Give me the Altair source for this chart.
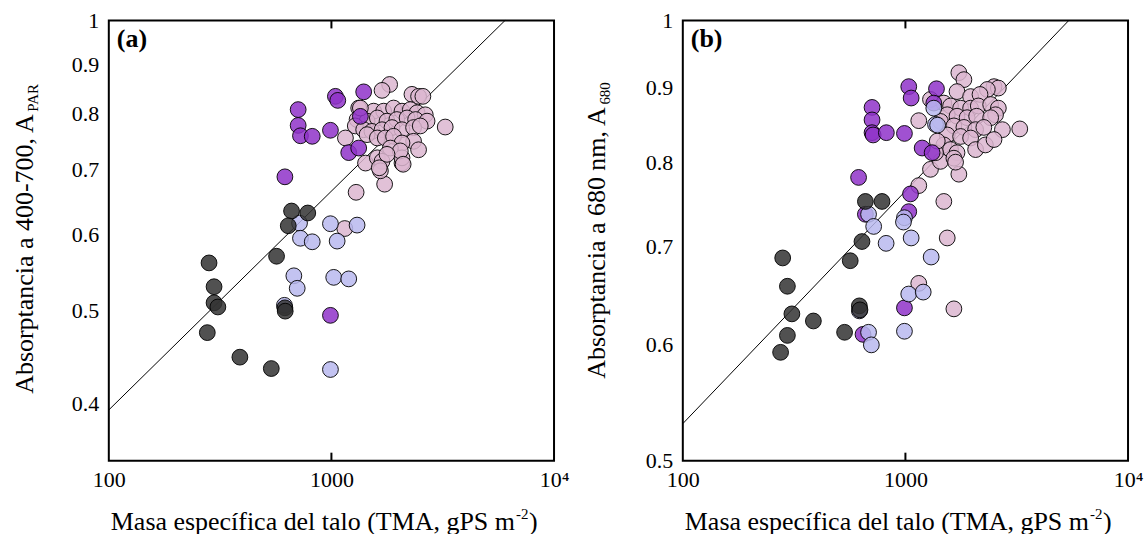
import altair as alt
import pandas as pd

# ---------------- Panel (a): Absorptancia 400-700 (A_PAR) ----------------
a_gris_x = [282, 297, 297, 309, 277, 388, 537, 567, 618, 620, 662, 783, 640]
a_gris_y = [0.560, 0.529, 0.509, 0.504, 0.474, 0.447, 0.435, 0.569, 0.503, 0.499, 0.634, 0.631, 0.612]

a_lav_x = [719, 726, 820, 990, 1304, 1061, 678, 702, 1024, 1196, 615, 990]
a_lav_y = [0.616, 0.594, 0.589, 0.615, 0.613, 0.590, 0.543, 0.527, 0.541, 0.539, 0.506, 0.434]

a_mor_x = [618, 709, 709, 726, 820, 990, 1042, 1068, 1396, 1349, 1196, 1326, 990]
a_mor_y = [0.688, 0.808, 0.778, 0.759, 0.758, 0.769, 0.834, 0.826, 0.843, 0.795, 0.729, 0.737, 0.494]

a_rosa_x = [1148, 1291, 1734, 1826, 1688, 2300, 2463, 2575, 1326, 1548, 1717, 1902, 2075, 2262,
            2427, 2640, 1304, 1446, 1608, 1777, 1967, 2187, 2389, 2689, 1280, 1396, 1521, 1688,
            1871, 2075, 2339, 2506, 3245, 1156, 1446, 1608, 1746, 1902, 2339, 2463, 2075, 1840,
            1423, 1608, 1688, 1660, 2075, 2075, 2039, 1777, 1640, 2100, 1349]
a_rosa_y = [0.608, 0.663, 0.676, 0.858, 0.846, 0.838, 0.834, 0.834, 0.811, 0.805, 0.805, 0.811, 0.805, 0.808,
            0.802, 0.798, 0.789, 0.786, 0.792, 0.786, 0.789, 0.792, 0.789, 0.786, 0.777, 0.770, 0.767, 0.770,
            0.774, 0.770, 0.774, 0.777, 0.775, 0.755, 0.761, 0.755, 0.755, 0.758, 0.749, 0.734, 0.746, 0.737,
            0.711, 0.720, 0.714, 0.698, 0.711, 0.720, 0.732, 0.726, 0.703, 0.709, 0.811]

a_linea_x = [100, 6026]
a_linea_y = [0.394, 1.0]

# ---------------- Panel (b): Absorptancia 680 nm (A_680) ----------------
b_gris_x = [281, 295, 309, 295, 275, 386, 533, 621, 625, 565, 638, 661, 785]
b_gris_y = [0.688, 0.658, 0.630, 0.609, 0.593, 0.623, 0.612, 0.638, 0.634, 0.685, 0.706, 0.752, 0.752]

b_lav_x = [683, 720, 819, 990, 980, 1061, 1305, 1035, 1202, 990, 683, 703, 621, 1341, 1365, 1395]
b_lav_y = [0.737, 0.723, 0.704, 0.733, 0.728, 0.710, 0.689, 0.650, 0.652, 0.613, 0.612, 0.600, 0.633, 0.871, 0.849, 0.848]

b_mor_x = [616, 708, 708, 708, 716, 821, 990, 1035, 1061, 1379, 1341, 1189, 1318, 1054, 1035, 990, 645, 661]
b_mor_y = [0.781, 0.872, 0.855, 0.838, 0.835, 0.838, 0.837, 0.901, 0.885, 0.898, 0.878, 0.818, 0.812, 0.761, 0.740, 0.636, 0.610, 0.737]

b_rosa_x = [1488, 1541, 1651, 1148, 1148, 1296, 1738, 1148, 1738, 1831, 2500, 2615, 2334, 1705, 1963, 2163,
            1296, 1488, 1595, 1770, 1963, 2125, 2415, 2615, 2540, 1541, 1705, 1893, 2089, 2415,
            1437, 1651, 1831, 2067, 2250, 2727, 3263, 1541, 1770, 1963, 1488, 1595, 1705, 2067, 2287, 2500,
            1437, 1651, 1680, 1365, 1390]
b_rosa_y = [0.752, 0.710, 0.635, 0.661, 0.771, 0.791, 0.785, 0.854, 0.921, 0.911, 0.901, 0.899, 0.897, 0.894, 0.887, 0.890,
            0.883, 0.878, 0.874, 0.871, 0.871, 0.874, 0.876, 0.871, 0.862, 0.862, 0.860, 0.858, 0.860, 0.858,
            0.853, 0.847, 0.845, 0.842, 0.845, 0.842, 0.843, 0.835, 0.833, 0.831, 0.822, 0.816, 0.812, 0.816, 0.822, 0.829,
            0.801, 0.805, 0.800, 0.812, 0.827]

b_linea_x = [100, 5420]
b_linea_y = [0.530, 1.0]

grupos = ["rosa", "morado", "lavanda", "gris"]
colores = ["#dcb6d0", "#8f33c9", "#b8b8ef", "#333333"]

FONT = "Liberation Serif"
W, H = 446, 441


def puntos(rx, ry, mx, my, lx, ly, gx, gy):
    frames = []
    for g, xs, ys in [("rosa", rx, ry), ("morado", mx, my), ("lavanda", lx, ly), ("gris", gx, gy)]:
        frames.append(pd.DataFrame({"tma": xs, "abs": ys, "grupo": g}))
    df = pd.concat(frames, ignore_index=True)
    df["orden"] = range(len(df))
    return df


def panel(df, lx, ly, ydom, yvals, letra, titulo, sub, y_bottom, x_base, main_len, anchor=False):
    xs = alt.Scale(type="log", domain=[100, 10000], nice=False)
    ys = alt.Scale(type="log", domain=ydom, nice=False)
    xaxis = alt.Axis(values=[100, 1000, 10000], ticks=False, domain=False, grid=False,
                     labelExpr="datum.value >= 10000 ? '10\u2074' : format(datum.value, 'd')",
                     labelFont=FONT, labelFontSize=22, labelColor="black", labelPadding=9,
                     labelFlush=False, labelOverlap=False, title=None)
    yaxis = alt.Axis(values=yvals, ticks=False, domain=False, grid=False,
                     labelExpr="format(datum.value, '~g')",
                     labelFont=FONT, labelFontSize=22, labelColor="black", labelPadding=10,
                     labelFlush=False, labelOverlap=False, title=None)

    linea = alt.Chart(pd.DataFrame({"tma": lx, "abs": ly})).mark_line(
        color="black", strokeWidth=1).encode(
        x=alt.X("tma:Q", scale=xs, axis=xaxis),
        y=alt.Y("abs:Q", scale=ys, axis=yaxis))

    pts = alt.Chart(df).mark_circle(size=250, stroke="black", strokeWidth=1,
                                    fillOpacity=0.85, strokeOpacity=0.9).encode(
        x=alt.X("tma:Q", scale=xs),
        y=alt.Y("abs:Q", scale=ys),
        color=alt.Color("grupo:N", scale=alt.Scale(domain=grupos, range=colores), legend=None),
        order=alt.Order("orden:Q"))

    marca = pd.DataFrame({"tma": [1000]})
    tick_bot = alt.Chart(marca).mark_rule(color="black", strokeWidth=2).encode(
        x=alt.X("tma:Q", scale=xs), y=alt.value(H), y2=alt.value(H - 8))
    tick_top = alt.Chart(marca).mark_rule(color="black", strokeWidth=2).encode(
        x=alt.X("tma:Q", scale=xs), y=alt.value(0), y2=alt.value(8))

    uno = pd.DataFrame({"k": [0]})
    t_letra = alt.Chart(uno).mark_text(text=letra, font=FONT, fontSize=26, fontWeight="bold",
                                       align="left", baseline="alphabetic", color="black").encode(
        x=alt.value(8), y=alt.value(27))

    t_y = alt.Chart(uno).mark_text(text=titulo, font=FONT, fontSize=26, angle=270,
                                   align="left", baseline="alphabetic", color="black").encode(
        x=alt.value(x_base), y=alt.value(y_bottom))
    t_ysub = alt.Chart(uno).mark_text(text=sub, font=FONT, fontSize=15, angle=270,
                                      align="left", baseline="alphabetic", color="black").encode(
        x=alt.value(x_base + 5), y=alt.value(y_bottom - main_len - 1))

    t_x = alt.Chart(uno).mark_text(text="Masa específica del talo (TMA, gPS m", font=FONT, fontSize=26,
                                   align="left", baseline="alphabetic", color="black").encode(
        x=alt.value(2), y=alt.value(510))
    t_xsup = alt.Chart(uno).mark_text(text="-2", font=FONT, fontSize=15,
                                      align="left", baseline="alphabetic", color="black").encode(
        x=alt.value(2 + 405 + 1), y=alt.value(499))
    t_xpar = alt.Chart(uno).mark_text(text=")", font=FONT, fontSize=26,
                                      align="left", baseline="alphabetic", color="black").encode(
        x=alt.value(2 + 405 + 14), y=alt.value(510))

    capas = [linea, pts, tick_bot, tick_top, t_letra, t_y, t_ysub, t_x, t_xsup, t_xpar]
    if anchor:
        borde = alt.Chart(uno).mark_rule(strokeOpacity=0, strokeWidth=0.1).encode(
            x=alt.value(-108), x2=alt.value(1037), y=alt.value(-19))
        borde2 = alt.Chart(uno).mark_rule(strokeOpacity=0, strokeWidth=0.1).encode(
            x=alt.value(-108), x2=alt.value(1037), y=alt.value(515))
        capas += [borde, borde2]
    return alt.layer(*capas).properties(width=W, height=H)


df_a = puntos(a_rosa_x, a_rosa_y, a_mor_x, a_mor_y, a_lav_x, a_lav_y, a_gris_x, a_gris_y)
df_b = puntos(b_rosa_x, b_rosa_y, b_mor_x, b_mor_y, b_lav_x, b_lav_y, b_gris_x, b_gris_y)

pa = panel(df_a, a_linea_x, a_linea_y, [0.349, 1.0], [0.4, 0.5, 0.6, 0.7, 0.8, 0.9, 1.0], "(a)",
           "Absorptancia a 400-700, A", "PAR", 374, -76, 10.831 * 26, anchor=True)
pb = panel(df_b, b_linea_x, b_linea_y, [0.5, 1.0], [0.5, 0.6, 0.7, 0.8, 0.9, 1.0], "(b)",
           "Absorptancia a 680 nm, A", "680", 359, -78, 10.526 * 26)

chart = alt.hconcat(pa, pb, spacing=129, bounds="flush").properties(
    padding=0
).configure_view(stroke="black", strokeWidth=2)

chart.save("out.html", embed_options={"renderer": "svg", "actions": False})
